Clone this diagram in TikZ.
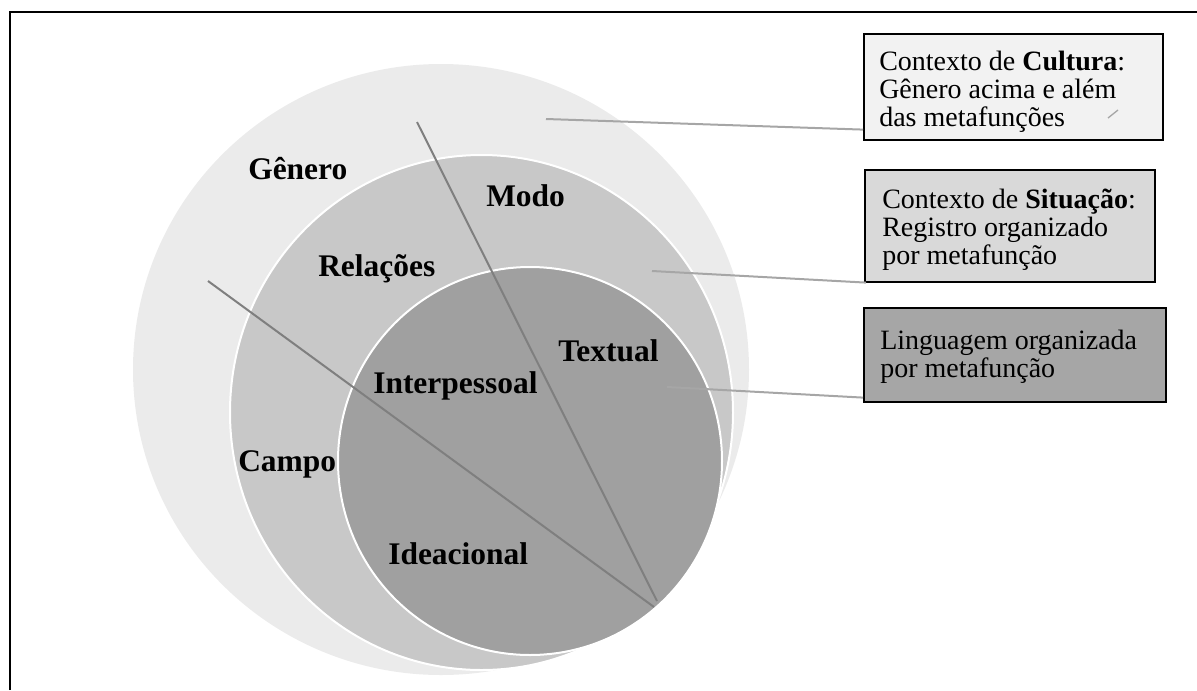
\documentclass[tikz,border=0pt]{standalone}
\usepackage{fontspec}
\setmainfont{Liberation Serif}
\usetikzlibrary{calc}
\definecolor{ring1}{HTML}{EBEBEB}
\definecolor{ring2}{HTML}{C8C8C8}
\definecolor{ring3}{HTML}{A0A0A0}
\definecolor{box1fill}{HTML}{F2F2F2}
\definecolor{box2fill}{HTML}{D9D9D9}
\definecolor{box3fill}{HTML}{A6A6A6}
\definecolor{divline}{HTML}{7F7F7F}
\definecolor{conline}{HTML}{A6A6A6}
\def\u{0.75pt}
\tikzset{
  ringlabel/.style={anchor=base west, inner sep=0pt, font=\fontsize{23.6}{26}\selectfont\bfseries},
  boxshape/.style={draw=black, line width=1.2pt, anchor=north west, inner sep=0pt},
  boxtext/.style={anchor=north west, inner sep=0pt, align=left, font=\fontsize{21}{21}\selectfont},
  divider/.style={draw=divline, line width=1.5pt},
  connector/.style={draw=conline, line width=1.5pt},
}
\begin{document}
\begin{tikzpicture}[x=0.75pt, y=-0.75pt]
\useasboundingbox (0,0) rectangle (1197,690);
% frame
\draw[line width=1.5pt] (9.5,690) -- (9.5,12) -- (1197,12);
% nested circles
\fill[ring1] (441,369.5) ellipse [x radius=308, y radius=305.5];
\filldraw[fill=ring2, draw=white, line width=1.5pt] (481.5,412.5) ellipse [x radius=251.5, y radius=257.5];
\filldraw[fill=ring3, draw=white, line width=1.5pt] (530,461) ellipse [x radius=192, y radius=194];
% dividing lines
\coordinate (a1) at (417,122);
\coordinate (a2) at (657,601);
\coordinate (b1) at (208,281);
\coordinate (b2) at (654,607);
\draw[divider] (a1) -- (a2);
\draw[divider] (b1) -- (b2);
% labels
\node[ringlabel] (genero) at (248,179) {Gênero};
\node[ringlabel] (modo) at (486,206) {Modo};
\node[ringlabel] (relacoes) at (318,276) {Relações};
\node[ringlabel] (campo) at (238,471) {Campo};
\node[ringlabel] (textual) at (558,361) {Textual};
\node[ringlabel] (interp) at (373,393) {Interpessoal};
\node[ringlabel] (ideac) at (388,564) {Ideacional};
% boxes
\node[boxshape, fill=box1fill, minimum width=299*\u, minimum height=106*\u] (box1) at (863,33) {};
\node[boxshape, fill=box2fill, minimum width=290*\u, minimum height=112*\u] (box2) at (864,169) {};
\node[boxshape, fill=box3fill, minimum width=302*\u, minimum height=94*\u] (box3) at (863,307) {};
\node[boxtext] (t1) at (879,47.6) {\rule{0pt}{0.8em}Contexto de \textbf{Cultura}:\\Gênero acima e além\\das metafunções};
\node[boxtext] (t2) at (882,185.6) {\rule{0pt}{0.8em}Contexto de \textbf{Situação}:\\Registro organizado\\por metafunção};
\node[boxtext] (t3) at (880,326.6) {\rule{0pt}{0.8em}Linguagem organizada\\por metafunção};
% connectors
\coordinate (c1) at (546,119);
\coordinate (c2) at (652,271);
\coordinate (c3) at (667,387);
\draw[connector] (c1) -- ($(box1.south west)+(0,-11)$);
\draw[connector] (c2) -- ($(box2.south west)+(2,0)$);
\draw[connector] (c3) -- ($(box3.south west)+(0,-5)$);
% small mark in box 1
\coordinate (m1) at (1108,118);
\coordinate (m2) at (1118,110);
\draw[connector, line width=1pt] (m1) -- (m2);
\end{tikzpicture}
\end{document}
